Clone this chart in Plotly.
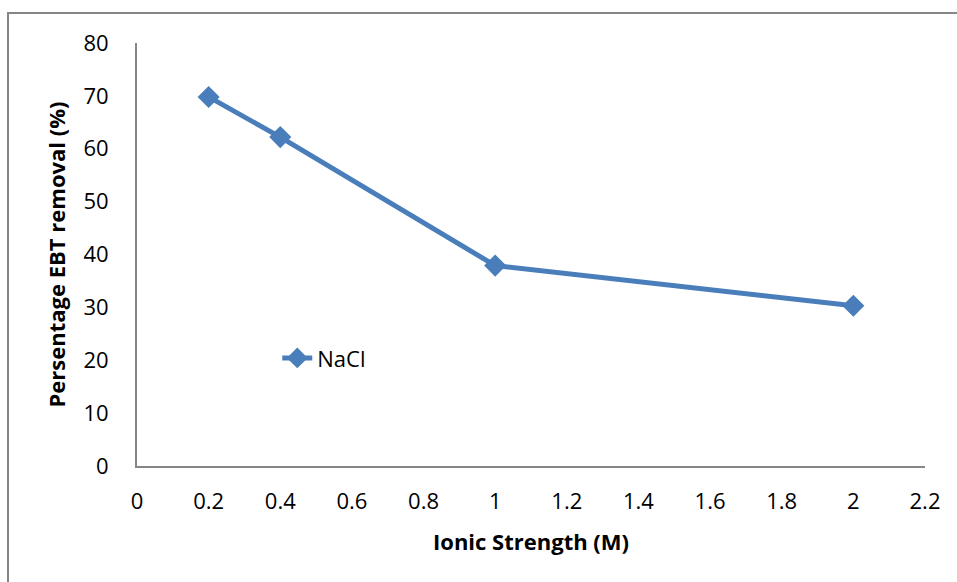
import plotly.graph_objects as go

# Ionic strength effect on EBT removal
ionic_strength = [0.2, 0.4, 1.0, 2.0]
removal_pct = [69.8, 62.2, 37.9, 30.3]
series_name = "NaCl"

x_ticks = [0, 0.2, 0.4, 0.6, 0.8, 1, 1.2, 1.4, 1.6, 1.8, 2, 2.2]
x_tick_text = ["0", "0.2", "0.4", "0.6", "0.8", "1", "1.2", "1.4", "1.6", "1.8", "2", "2.2"]
y_ticks = [0, 10, 20, 30, 40, 50, 60, 70, 80]

blue = "#4A7EBB"
font_family = "Open Sans, Noto Sans, sans-serif"

fig = go.Figure()
fig.add_trace(go.Scatter(
    x=ionic_strength, y=removal_pct, name=series_name,
    mode="lines+markers",
    line=dict(color=blue, width=5),
    marker=dict(symbol="diamond", size=17, color=blue),
))

fig.update_layout(
    width=957, height=582,
    margin=dict(l=137, r=32, t=43, b=116),
    paper_bgcolor="white", plot_bgcolor="white",
    font=dict(family=font_family, size=22, color="black"),
    showlegend=True,
    legend=dict(x=0.178, y=0.255, xanchor="left", yanchor="middle",
                bgcolor="rgba(0,0,0,0)", font=dict(size=22)),
    xaxis=dict(
        range=[0, 2.2], tickvals=x_ticks, ticktext=x_tick_text,
        showgrid=False, zeroline=False,
        showline=True, linecolor="#868686", linewidth=2,
        ticks="outside", ticklen=15, tickcolor="rgba(0,0,0,0)",
        tickfont=dict(size=22),
        title=dict(text="<b>Ionic Strength (M)</b>", font=dict(size=22), standoff=20),
    ),
    yaxis=dict(
        range=[0, 80], tickvals=y_ticks,
        showgrid=False, zeroline=False,
        showline=True, linecolor="#868686", linewidth=2,
        ticks="outside", ticklen=22, tickcolor="rgba(0,0,0,0)",
        tickfont=dict(size=22),
        title=dict(text="<b>Persentage EBT removal (%)</b>", font=dict(size=22), standoff=12),
    ),
    shapes=[dict(
        type="rect", xref="paper", yref="paper",
        x0=-0.1637, y0=-0.4, x1=1.1, y1=1.071,
        line=dict(color="#868686", width=2), fillcolor="rgba(0,0,0,0)",
    )],
)

fig.write_html("out.html")
